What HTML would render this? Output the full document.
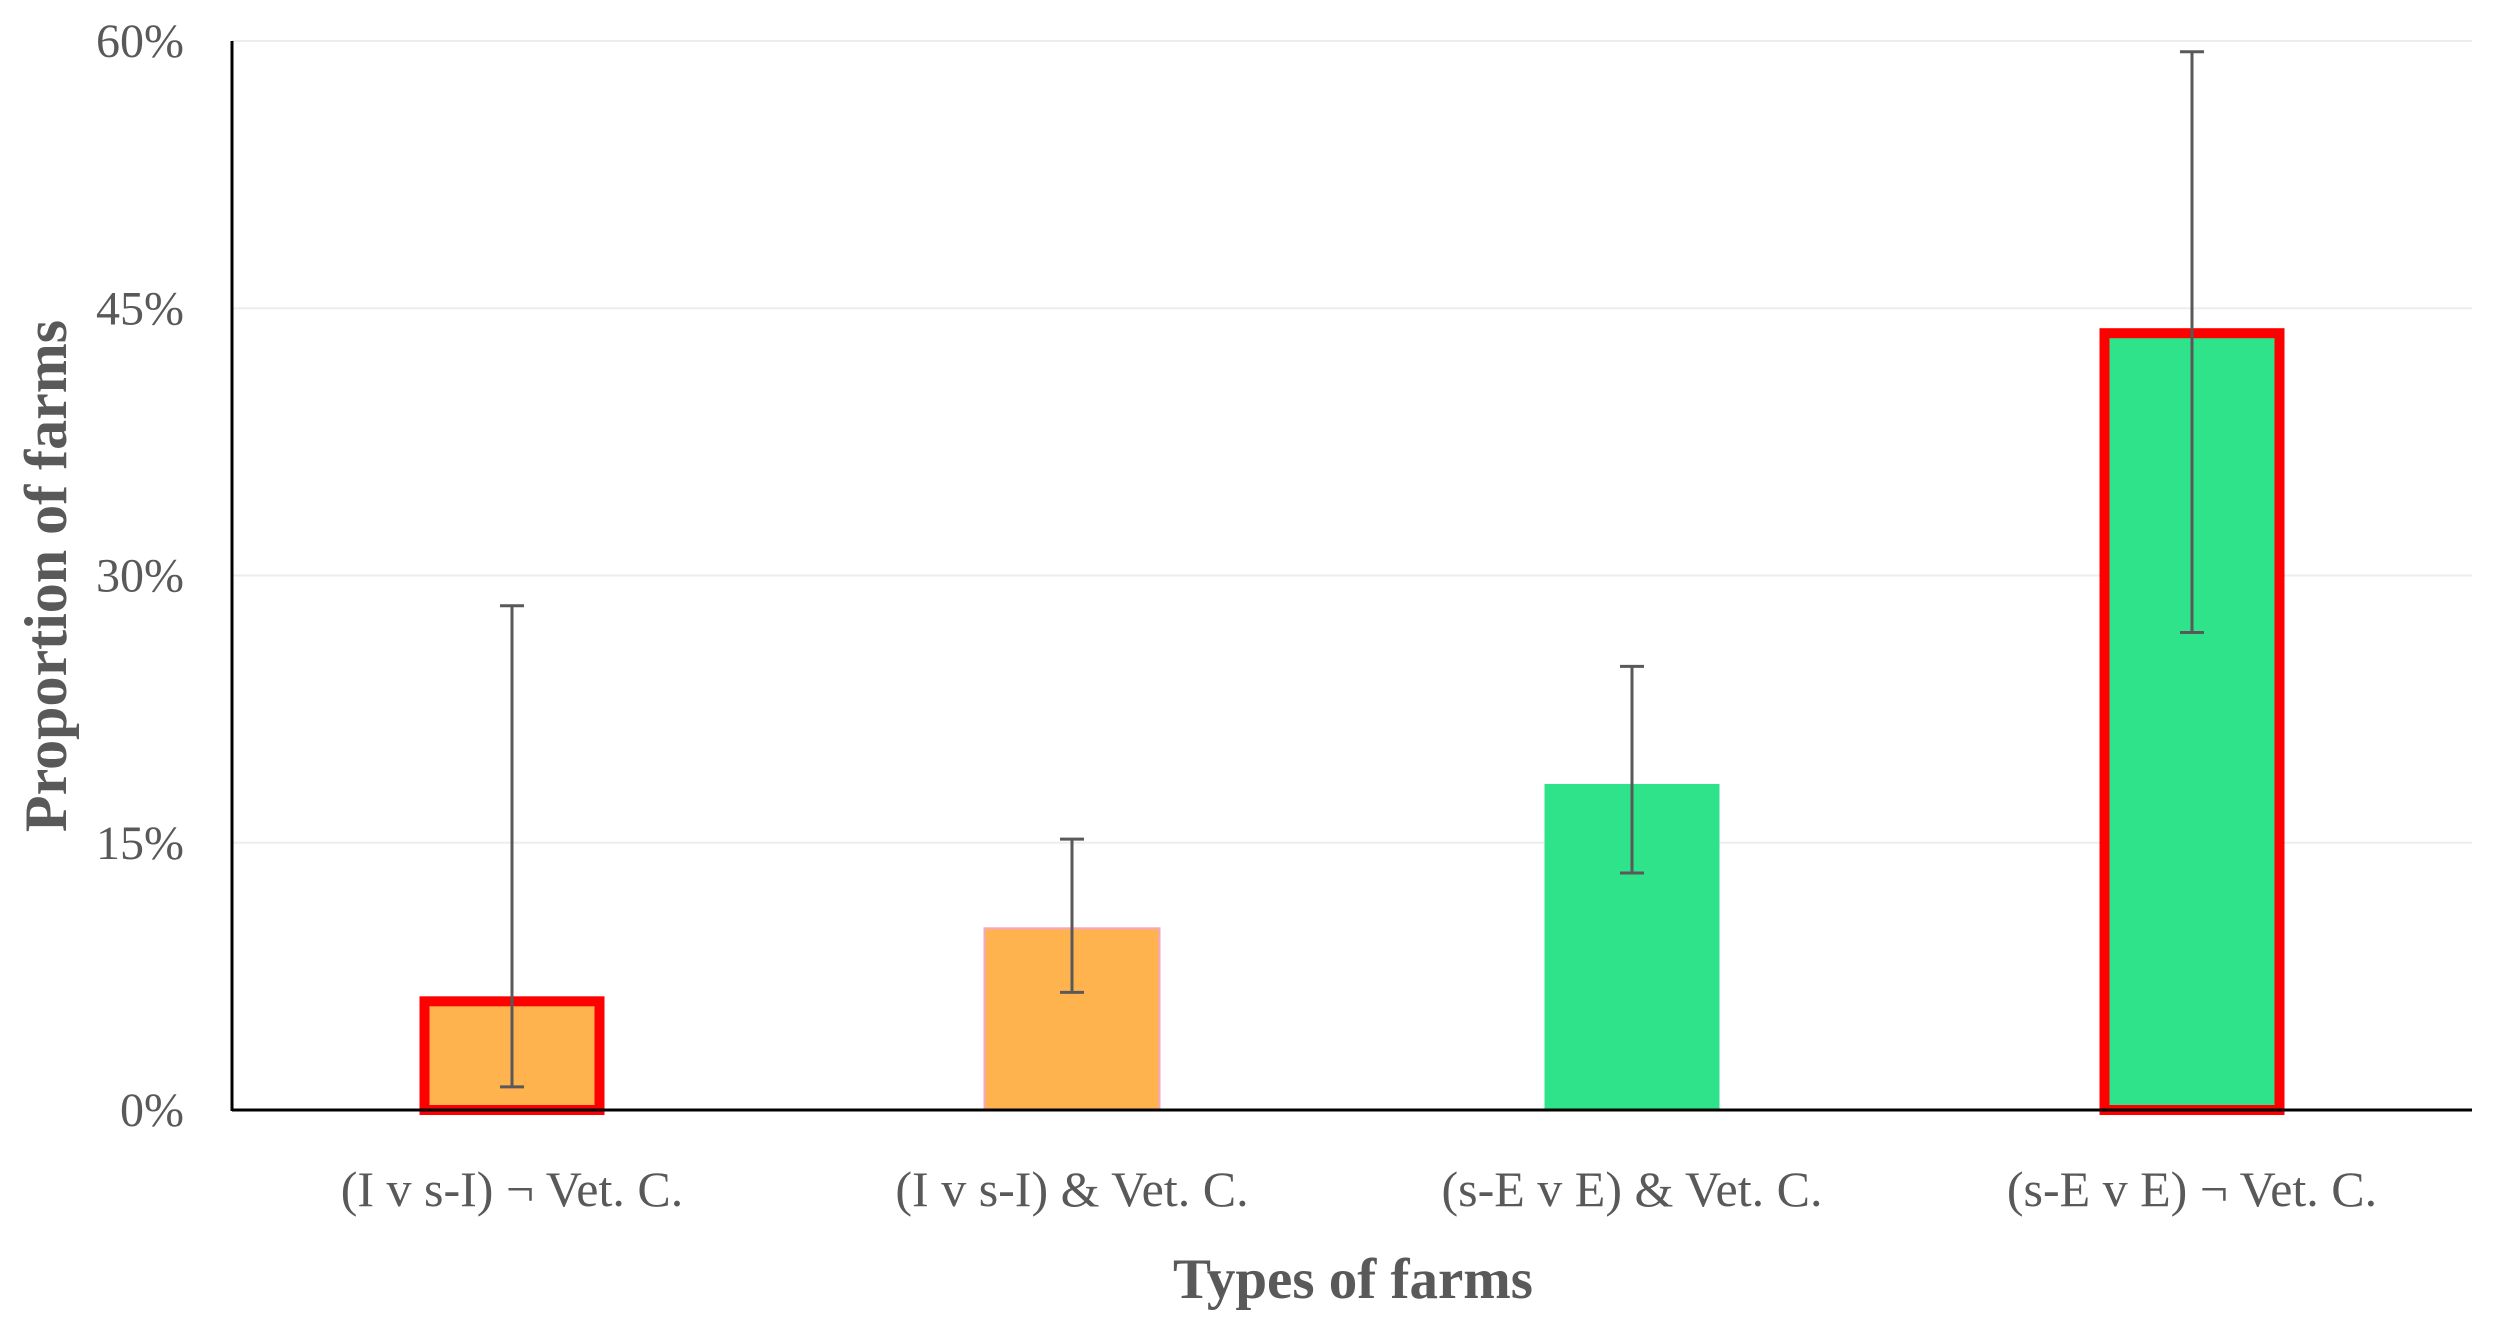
<!DOCTYPE html>
<html><head><meta charset="utf-8"><style>
html,body{margin:0;padding:0;background:#fff;}
svg{display:block;font-family:"Liberation Serif",serif;}
</style></head><body>
<svg id="chart" width="2496" height="1332" viewBox="0 0 2496 1332">
<g id="grid"></g>
<g id="bars"></g>
<g id="errs"></g>
<g id="axes"></g>
<text x="1353" y="1298" text-anchor="middle" font-size="57" font-weight="bold" fill="#595959">Types of farms</text>
<text transform="translate(66,576) rotate(-90)" text-anchor="middle" font-size="60" font-weight="bold" fill="#595959">Proportion of farms</text>
</svg>
<script>
const categories = ["(I v s-I) \u00AC Vet. C.", "(I v s-I) & Vet. C.", "(s-E v E) & Vet. C.", "(s-E v E) \u00AC Vet. C."];
const values = [6.1, 10.2, 18.3, 43.6];
const errHigh = [28.3, 15.2, 24.9, 59.4];
const errLow = [1.3, 6.6, 13.3, 26.8];
const fills = ["#FFB34F", "#FFB34F", "#2EE38A", "#2EE38A"];
const highlighted = [true, false, false, true];
const ticks = [0, 15, 30, 45, 60];
const tickLabels = ["0%", "15%", "30%", "45%", "60%"];

const NS = "http://www.w3.org/2000/svg";
const X0 = 232, X1 = 2472, Y0 = 1110, YT = 41, YMAX = 60;
const y = v => Y0 - (v / YMAX) * (Y0 - YT);
const band = (X1 - X0) / categories.length;
const xc = i => X0 + band * (i + 0.5);
const BW = 175;
function mk(tag, attrs, parent) {
  const e = document.createElementNS(NS, tag);
  for (const k in attrs) e.setAttribute(k, attrs[k]);
  parent.appendChild(e);
  return e;
}
const grid = document.getElementById('grid'), bars = document.getElementById('bars'),
      errs = document.getElementById('errs'), axes = document.getElementById('axes');
ticks.forEach((t, i) => {
  if (t > 0) {
    const l = mk('line', {x1: X0, x2: X1, y1: y(t), y2: y(t), stroke: '#EDEDED', 'stroke-width': 2}, grid);
    
    
  }
  const tx = mk('text', {x: 184, y: y(t) + 16, 'text-anchor': 'end', 'font-size': 48, fill: '#595959'}, axes);
  tx.textContent = tickLabels[i];
  
  
});
categories.forEach((c, i) => {
  const h = highlighted[i];
  const r = mk('rect', {x: xc(i) - BW / 2, y: y(values[i]), width: BW, height: Y0 - y(values[i]), fill: fills[i],
    stroke: h ? '#FF0000' : (i === 1 ? '#F4A6C8' : 'none'), 'stroke-width': h ? 10 : 2}, bars);
  
  
  const g = mk('g', {stroke: '#595959', 'stroke-width': 3}, errs);
  
  
  mk('line', {x1: xc(i), x2: xc(i), y1: y(errHigh[i]), y2: y(errLow[i])}, g);
  mk('line', {x1: xc(i) - 12, x2: xc(i) + 12, y1: y(errHigh[i]), y2: y(errHigh[i])}, g);
  mk('line', {x1: xc(i) - 12, x2: xc(i) + 12, y1: y(errLow[i]), y2: y(errLow[i])}, g);
  const t = mk('text', {x: xc(i), y: 1206, 'text-anchor': 'middle', 'font-size': 50, fill: '#595959'}, axes);
  t.textContent = c;
  
  
});
const ya = mk('line', {x1: X0, x2: X0, y1: YT, y2: Y0 + 1, stroke: '#000', 'stroke-width': 3}, axes);


const xa = mk('line', {x1: X0, x2: X1, y1: Y0, y2: Y0, stroke: '#000', 'stroke-width': 3}, axes);


</script>
</body></html>
